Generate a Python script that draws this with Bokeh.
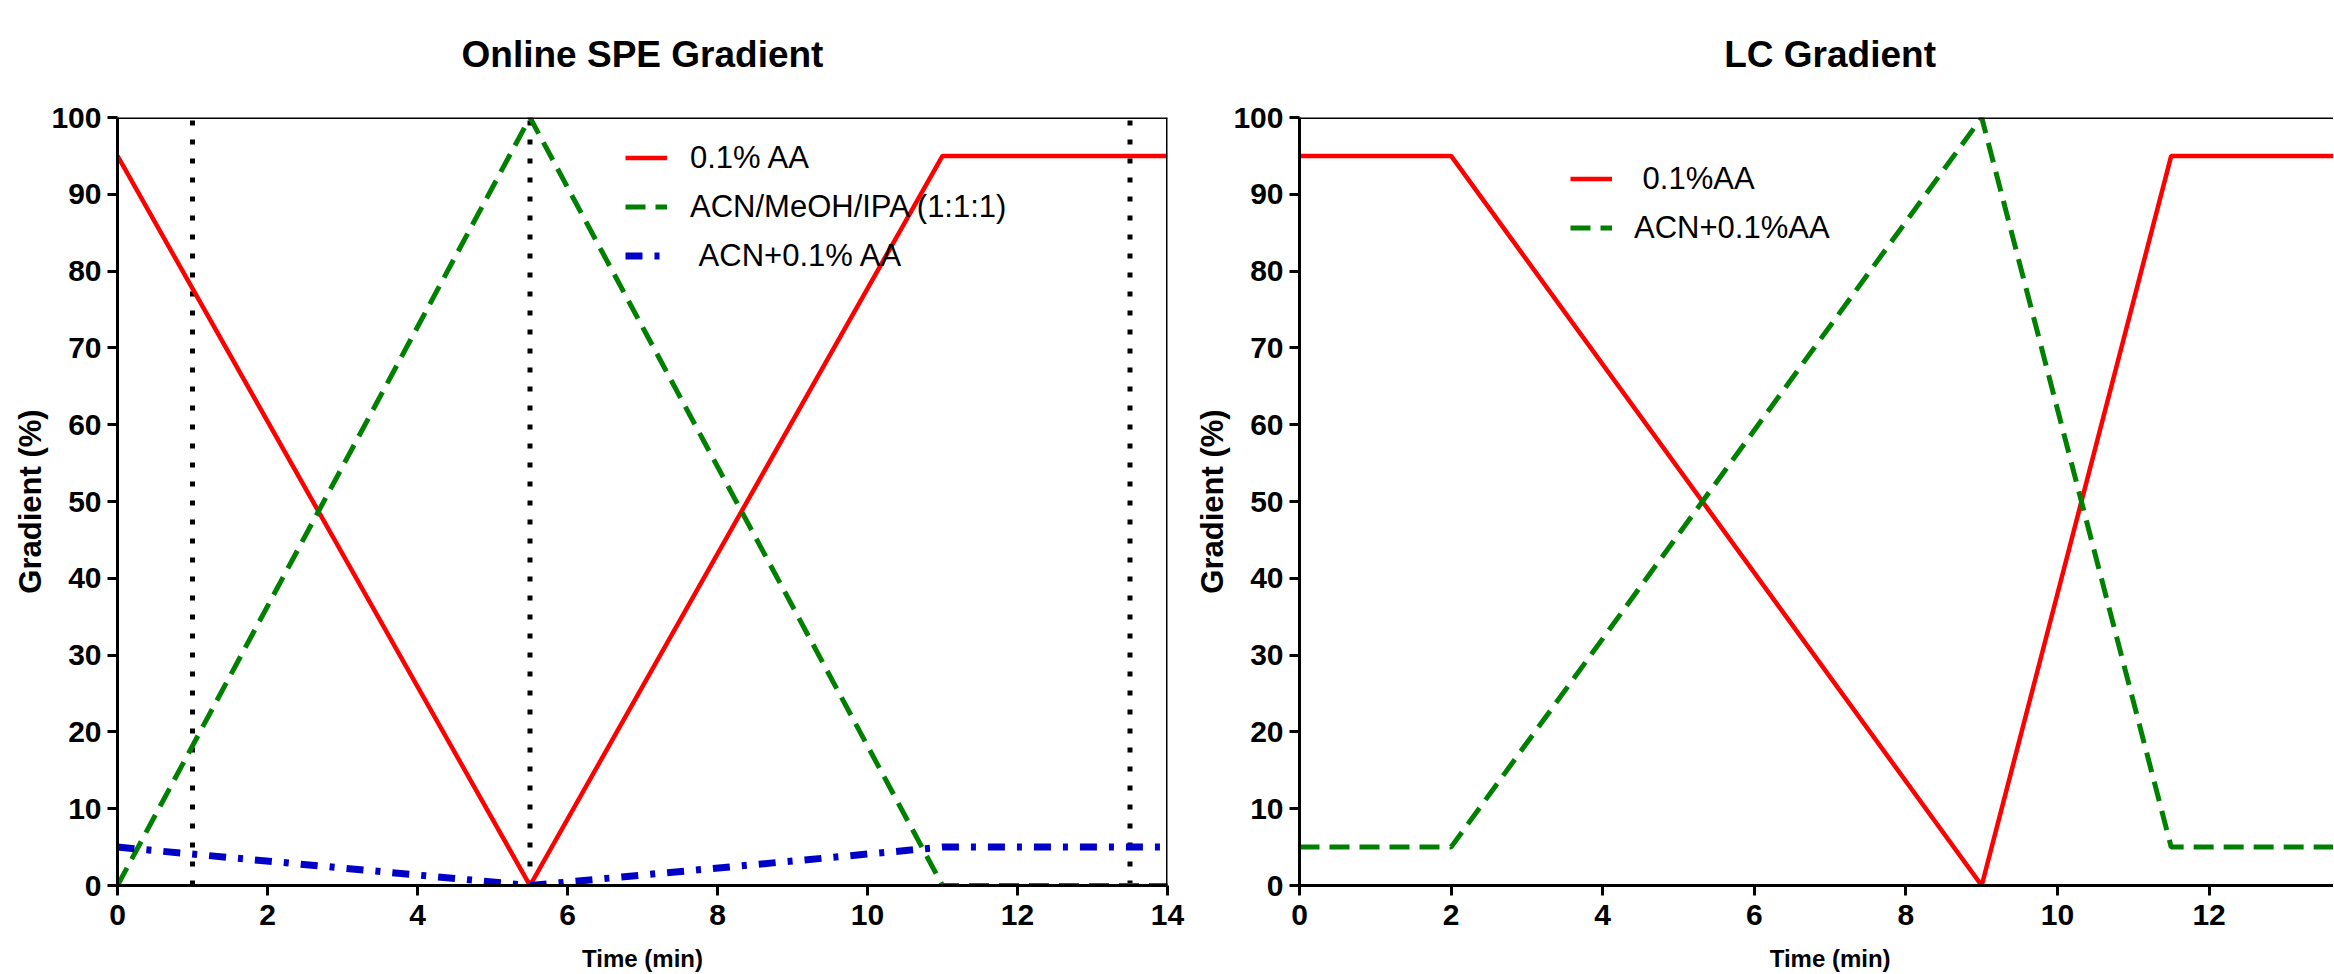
from bokeh.plotting import figure
from bokeh.models import Range1d, Span, Legend, LegendItem, FixedTicker, Spacer
from bokeh.layouts import row, column
from bokeh.embed import file_html
from bokeh.resources import INLINE
from bokeh.core.properties import value

# ---------------- data ----------------
spe_time = [0, 5.5, 11, 14]
spe_aa = [95, 0, 95, 95]                 # 0.1% AA
spe_org = [0, 100, 0, 0]                 # ACN/MeOH/IPA (1:1:1)
spe_acn = [5, 0, 5, 5]                   # ACN+0.1% AA
spe_markers = [1, 5.5, 13.5]             # dotted vertical lines

lc_time = [0, 2, 9, 11.5, 14]
lc_aa = [95, 95, 0, 95, 95]              # 0.1%AA
lc_acn = [5, 5, 100, 5, 5]               # ACN+0.1%AA

titles = ["Online SPE Gradient", "LC Gradient"]
x_title = "Time (min)"
y_title = "Gradient (%)"
x_ticks = [0, 2, 4, 6, 8, 10, 12, 14]
y_ticks = [0, 10, 20, 30, 40, 50, 60, 70, 80, 90, 100]

FONT = "Liberation Sans"
RED = "#ff0000"
GREEN = "#008000"
BLUE = "#0000c8"

# layout (pixels)
LEAD = 9
TITLE_H = 102
TOP = 15
FRAME_H = 768
BOTTOM = 58
XLAB_H = 30
LEFT_W = 1050
RIGHT_W = 1034
RIGHT_PX_PER_MIN = 75.8
BORDERS = [(108, 24), (108, 0)]


def text_fig(width, x_range, borders, height, label, y, size):
    f = figure(frame_width=width, frame_height=height, x_range=x_range,
               y_range=Range1d(0, height), output_backend="svg", toolbar_location=None,
               x_axis_location=None, y_axis_location=None,
               min_border_left=borders[0], min_border_right=borders[1],
               min_border_top=0, min_border_bottom=0)
    f.xgrid.visible = False
    f.ygrid.visible = False
    f.grid.grid_line_color = None
    f.outline_line_color = None
    f.background_fill_color = "white"
    f.border_fill_color = "white"
    mid = (x_range.start + x_ticks[-1]) / 2.0
    f.text(x=[mid], y=[y], text=[label], text_align="center", text_baseline="alphabetic",
           text_font=value(FONT), text_font_style="bold", text_font_size=value(size),
           text_color="black")
    return f


def style(p):
    p.grid.visible = False
    p.outline_line_color = None
    p.background_fill_color = "white"
    p.border_fill_color = "white"
    for ax in (p.xaxis[0], p.yaxis[0]):
        ax.axis_line_width = 3
        ax.axis_line_color = "black"
        ax.major_tick_line_width = 3
        ax.major_tick_line_color = "black"
        ax.major_tick_out = 10
        ax.major_tick_in = 0
        ax.minor_tick_line_color = None
        ax.major_label_text_font = FONT
        ax.major_label_text_font_style = "bold"
        ax.major_label_text_font_size = "30px"
        ax.major_label_text_color = "black"
        ax.axis_label_text_font = FONT
        ax.axis_label_text_font_style = "bold"
        ax.axis_label_text_font_size = "31px"
        ax.axis_label_text_color = "black"
    p.xaxis[0].ticker = FixedTicker(ticks=x_ticks)
    p.yaxis[0].ticker = FixedTicker(ticks=y_ticks)
    p.xaxis[0].major_label_standoff = 9
    p.yaxis[0].major_label_standoff = 6
    p.yaxis[0].axis_label_standoff = 0
    p.yaxis[0].axis_label = y_title
    p.add_layout(Span(location=y_ticks[-1], dimension="width", line_color="black", line_width=3))


def legend(items, x, y, standoff):
    return Legend(items=items, location=(x, y), glyph_width=42, glyph_height=49,
                  label_height=49, spacing=0, padding=0, margin=0,
                  border_line_color=None, background_fill_alpha=0,
                  label_standoff=standoff, label_text_font=FONT,
                  label_text_font_size="31px", label_text_color="black")


common = dict(frame_height=FRAME_H, y_range=Range1d(0, 100), output_backend="svg",
              toolbar_location=None, min_border_top=TOP, min_border_bottom=BOTTOM)

# ---------------- left: Online SPE ----------------
x1 = Range1d(0, 14)
p1 = figure(frame_width=LEFT_W, x_range=x1, min_border_left=BORDERS[0][0],
            min_border_right=BORDERS[0][1], **common)
style(p1)
p1.add_layout(Span(location=x_ticks[-1], dimension="height", line_color="black", line_width=3))
p1.segment(x0=spe_markers, y0=[0] * len(spe_markers), x1=spe_markers, y1=[100] * len(spe_markers),
           line_color="black", line_width=5, line_dash="5 14", line_cap="butt")
r_aa = p1.line(spe_time, spe_aa, line_color=RED, line_width=4.5)
r_org = p1.line(spe_time, spe_org, line_color=GREEN, line_width=5, line_dash="20 10")
r_acn = p1.line(spe_time, spe_acn, line_color=BLUE, line_width=7, line_dash="17 12 5 12")
p1.add_layout(legend([
    LegendItem(label="0.1% AA", renderers=[r_aa]),
    LegendItem(label="ACN/MeOH/IPA (1:1:1)", renderers=[r_org]),
    LegendItem(label="\u00a0ACN+0.1% AA", renderers=[r_acn]),
], 508, FRAME_H - 16 - 147, 23))

# ---------------- right: LC ----------------
x2 = Range1d(0, RIGHT_W / RIGHT_PX_PER_MIN)
p2 = figure(frame_width=RIGHT_W, x_range=x2, min_border_left=BORDERS[1][0],
            min_border_right=BORDERS[1][1], **common)
style(p2)
q_aa = p2.line(lc_time, lc_aa, line_color=RED, line_width=4.5)
q_acn = p2.line(lc_time, lc_acn, line_color=GREEN, line_width=5, line_dash="20 10")
p2.add_layout(legend([
    LegendItem(label="\u00a00.1%AA", renderers=[q_aa]),
    LegendItem(label="ACN+0.1%AA", renderers=[q_acn]),
], 271, FRAME_H - 37 - 98, 22))

# ---------------- titles and x-axis titles ----------------
t1 = text_fig(LEFT_W, x1, BORDERS[0], TITLE_H, titles[0], TITLE_H - 54, "37px")
t2 = text_fig(RIGHT_W, x2, BORDERS[1], TITLE_H, titles[1], TITLE_H - 54, "37px")
b1 = text_fig(LEFT_W, x1, BORDERS[0], XLAB_H, x_title, 15, "24px")
b2 = text_fig(RIGHT_W, x2, BORDERS[1], XLAB_H, x_title, 15, "24px")

layout = row(Spacer(width=LEAD), column(row(t1, t2), row(p1, p2), row(b1, b2)))
open("out.html", "w").write(file_html(layout, INLINE))
